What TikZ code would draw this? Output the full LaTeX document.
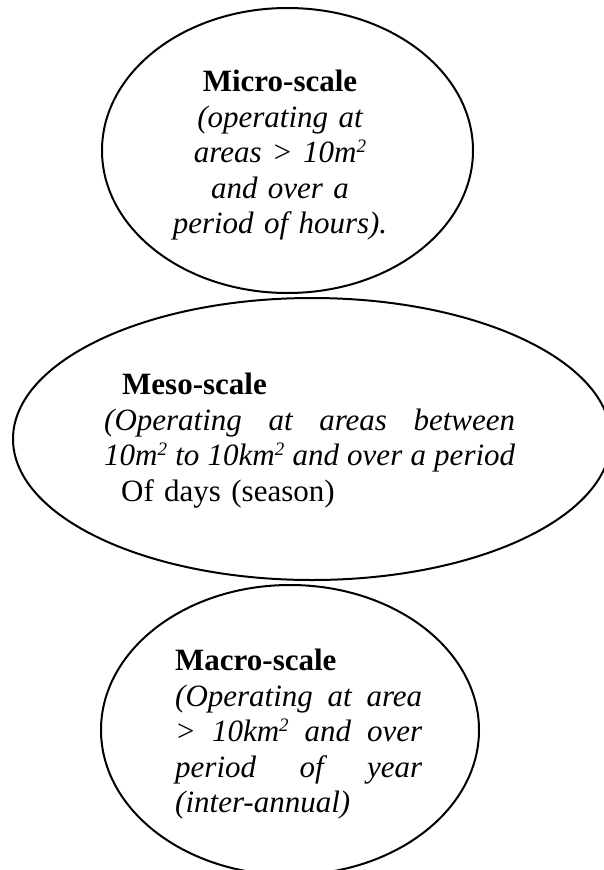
\documentclass[tikz,border=0pt]{standalone}
\usepackage{fontspec}
\setmainfont{Liberation Serif}
\usetikzlibrary{shapes.geometric}
\setlength{\parindent}{0pt}
\newcommand{\sqtwo}{\raisebox{10pt}{\fontsize{19}{19}\selectfont 2}}
\newcommand{\fullline}[2]{\leavevmode\hbox to #1{\itshape #2}}
\begin{document}
\begin{tikzpicture}[x=1pt,y=-1pt,
    scalebubble/.style={shape=ellipse,draw=black,line width=2pt,inner sep=0pt},
    bubbletext/.style={inner sep=0pt,font=\fontsize{31}{35.5}\selectfont}]
    \useasboundingbox (0,0) rectangle (604,870);

    \node[scalebubble,minimum width=371pt,minimum height=285pt] (Mi) at (287.5,150.5) {};
    \node[scalebubble,minimum width=598pt,minimum height=282pt] (Me) at (312,439) {};
    \node[scalebubble,minimum width=378pt,minimum height=290pt] (Ma) at (290,730) {};

    \node[bubbletext,anchor=north,text width=230pt,align=center] (MiT) at (280,70)
        {\textbf{Micro-scale}\\ \itshape (operating at\\ areas > 10m\sqtwo\\ and over a\\ period of hours).};
    \node[bubbletext,anchor=north west,text width=411pt,align=left] (MeT) at (104,373)
        {\hspace*{18pt}\textbf{Meso-scale}\\
         \fullline{411pt}{(Operating\hfill at\hfill areas\hfill between}\\
         \fullline{411pt}{10m\sqtwo\hfill to\hfill 10km\sqtwo\hfill and\hfill over\hfill a\hfill period}\\
         \hspace*{17pt}Of days (season)};
    \node[bubbletext,anchor=north west,text width=247pt,align=left] (MaT) at (175,649)
        {\textbf{Macro-scale}\\
         \fullline{247pt}{(Operating\hfill at\hfill area}\\
         \fullline{247pt}{>\hfill 10km\sqtwo\hfill and\hfill over}\\
         \fullline{247pt}{period\hfill of\hfill year}\\
         \itshape (inter-annual)};
\end{tikzpicture}
\end{document}
